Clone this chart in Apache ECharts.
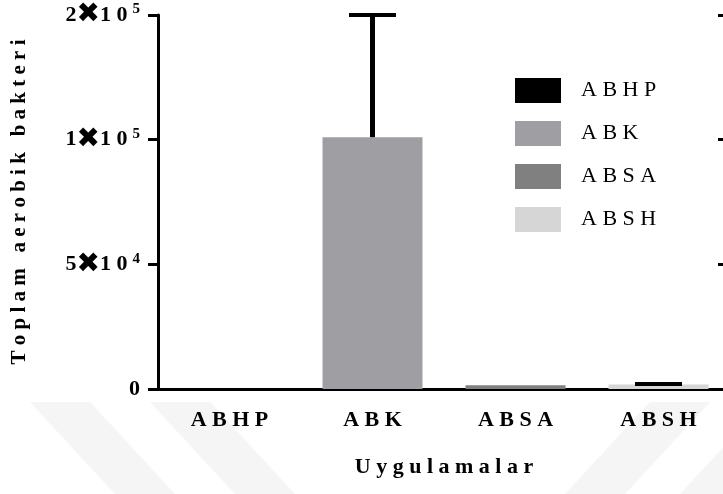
<!DOCTYPE html>
<html>
<head>
<meta charset="utf-8">
<script src="https://cdn.jsdelivr.net/npm/echarts@6/dist/echarts.min.js"></script>
<style>
  html, body { margin: 0; padding: 0; background: #fff; overflow: hidden; }
  /* the plot frame runs a few pixels past the right edge of the view */
  #chart { width: 732px; height: 494px; }
</style>
</head>
<body>
<div id="chart"></div>
<script>
// Treatments and total aerobic bacteria counts (mean, upper SD)
const categories = ['ABHP', 'ABK', 'ABSA', 'ABSH'];
const means = [0, 101000, 1500, 1800];
const errors = [0, 49000, 0, 200];
const barColors = ['#000000', '#9f9fa3', '#808080', '#d6d6d6'];

// y tick labels: mantissa and exponent per tick (0, 5e4, 1e5, top)
const yTickMantissa = ['0', '5', '1', '2'];
const yTickExponent = ['', '4', '5', '5'];
const yMin = 0, yMax = 150000, yStep = 50000;

const serif = 'Liberation Serif, Times New Roman, serif';
const spaced = s => s.split('').join(' ');

const chart = echarts.init(document.getElementById('chart'), null, { renderer: 'canvas' });

// one stacked bar series per treatment, so each gets its own legend entry
const barSeries = categories.map((name, i) => ({
  name: spaced(name),
  type: 'bar',
  stack: 'all',
  barWidth: 100,
  itemStyle: { color: barColors[i] },
  data: categories.map((c, j) => (j === i ? means[j] : '-')),
  z: 2
}));

const errorSeries = {
  type: 'custom',
  clip: false,
  silent: true,
  z: 3,
  data: categories.map((c, i) => [i, means[i], errors[i]]),
  renderItem: function (params, api) {
    const idx = api.value(0);
    const m = api.value(1);
    const e = api.value(2);
    if (!(e > 0)) return null;
    const base = api.coord([idx, m]);
    const top = api.coord([idx, m + e]);
    const half = 23.5;
    return {
      type: 'group',
      children: [
        { type: 'line', shape: { x1: top[0], y1: base[1], x2: top[0], y2: top[1] },
          style: { stroke: '#000', lineWidth: 5 } },
        { type: 'line', shape: { x1: top[0] - half, y1: top[1], x2: top[0] + half, y2: top[1] },
          style: { stroke: '#000', lineWidth: 4 } }
      ]
    };
  }
};

const axisLineStyle = { color: '#000', width: 3 };

const option = {
  backgroundColor: '#ffffff',
  animation: false,
  grid: { left: 158, top: 15, width: 572, height: 374 },
  legend: {
    orient: 'vertical',
    left: 510,
    top: 73,
    itemWidth: 46,
    itemHeight: 25,
    itemGap: 18,
    icon: 'rect',
    textStyle: { fontFamily: serif, fontSize: 22, color: '#000', padding: [0, 0, 0, 15] },
    data: categories.map(spaced)
  },
  graphic: [
    // faint diagonal background bands
    { type: 'polygon', silent: true, z: -10,
      shape: { points: [[30, 402], [90, 402], [175, 494], [115, 494]] },
      style: { fill: '#f5f5f5' } },
    { type: 'polygon', silent: true, z: -10,
      shape: { points: [[150, 402], [210, 402], [295, 494], [235, 494]] },
      style: { fill: '#f5f5f5' } },
    { type: 'polygon', silent: true, z: -10,
      shape: { points: [[565, 494], [625, 494], [710, 402], [650, 402]] },
      style: { fill: '#f5f5f5' } },
    { type: 'polygon', silent: true, z: -10,
      shape: { points: [[680, 494], [740, 494], [825, 402], [765, 402]] },
      style: { fill: '#f5f5f5' } }
  ],
  xAxis: [
    {
      type: 'category',
      position: 'bottom',
      data: categories,
      axisLine: { lineStyle: axisLineStyle },
      axisTick: { alignWithLabel: true, length: 10, lineStyle: axisLineStyle },
      axisLabel: {
        margin: 20,
        fontFamily: serif, fontWeight: 'bold', fontSize: 22, color: '#000',
        formatter: v => spaced(v)
      },
      name: 'U y g u l a m a l a r',
      nameLocation: 'middle',
      nameGap: 67,
      nameTextStyle: { fontFamily: serif, fontWeight: 'bold', fontSize: 22, color: '#000' }
    },
    {
      type: 'category',
      position: 'top',
      data: categories,
      axisLine: { lineStyle: axisLineStyle },
      axisTick: { alignWithLabel: true, inside: true, length: 9, lineStyle: axisLineStyle },
      axisLabel: { show: false }
    }
  ],
  yAxis: [
    {
      type: 'value',
      position: 'left',
      min: yMin, max: yMax, interval: yStep,
      splitLine: { show: false },
      axisLine: { show: true, lineStyle: axisLineStyle },
      axisTick: { show: true, length: 10, lineStyle: axisLineStyle },
      axisLabel: {
        margin: 18,
        formatter: function (v) {
          const i = Math.round((v - yMin) / yStep);
          if (!yTickExponent[i]) return '{n|' + yTickMantissa[i] + '}';
          return '{n|' + yTickMantissa[i] + '}{x|✖}{n|1 0}{s|' + yTickExponent[i] + '}';
        },
        rich: {
          n: { fontFamily: serif, fontWeight: 'bold', fontSize: 22, color: '#000', lineHeight: 26 },
          x: { fontFamily: 'DejaVu Sans', fontWeight: 'bold', fontSize: 28, color: '#000', lineHeight: 26 },
          s: { fontFamily: serif, fontWeight: 'bold', fontSize: 15, color: '#000',
               verticalAlign: 'top', lineHeight: 15, padding: [0, 0, 0, 5] }
        }
      },
      name: 'T o p l a m   a e r o b i k   b a k t e r i',
      nameLocation: 'middle',
      nameGap: 128,
      nameTextStyle: { fontFamily: serif, fontWeight: 'bold', fontSize: 21, color: '#000' }
    },
    {
      type: 'value',
      position: 'right',
      min: yMin, max: yMax, interval: yStep,
      splitLine: { show: false },
      axisLine: { show: true, lineStyle: axisLineStyle },
      axisTick: { show: true, inside: true, length: 12, lineStyle: axisLineStyle },
      axisLabel: { show: false }
    }
  ],
  series: barSeries.concat([errorSeries])
};

chart.setOption(option);
</script>
</body>
</html>
